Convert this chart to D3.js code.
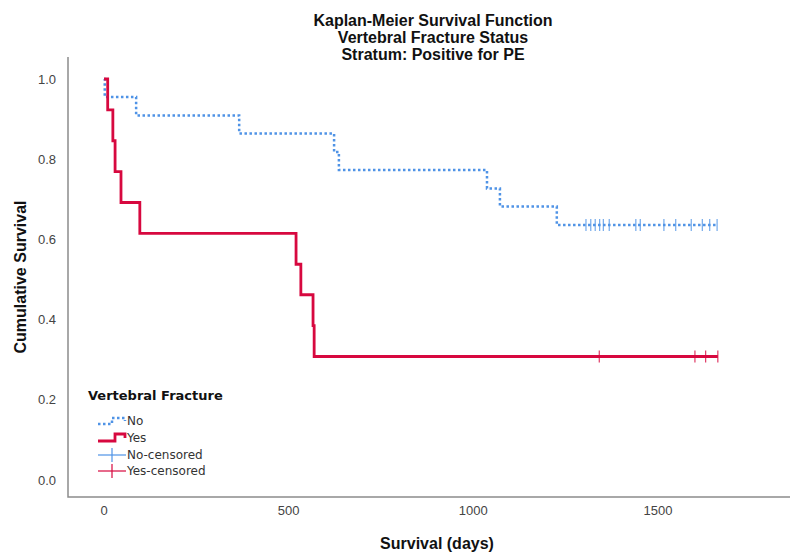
<!DOCTYPE html>
<html lang="en">
<head>
    <meta charset="UTF-8">
    <title>Kaplan-Meier Survival Function</title>
    <script src="https://d3js.org/d3.v7.min.js"></script>
    <style>
        body { margin: 0; background: #fff; }
        .title { font: bold 16px "Liberation Sans", Arial, sans-serif; fill: #111; }
        .axis-title { font: bold 16px "Liberation Sans", Arial, sans-serif; fill: #111; }
        .tick-label { font: 13px "Liberation Sans", Arial, sans-serif; fill: #444; }
        .legend-title { font: bold 13px "DejaVu Sans", sans-serif; fill: #111; }
        .legend-text { font: 12px "DejaVu Sans", sans-serif; fill: #333; }
    </style>
</head>
<body>
    <div id="chart"></div>

    <script>
        // Step times (days) where survival drops, and the survival after each drop
        const noTimes = [2, 87, 366, 623, 636, 1037, 1072, 1226];
        const noSurv = [0.955, 0.909, 0.864, 0.818, 0.773, 0.727, 0.682, 0.636];
        const noCensored = [1305, 1318, 1330, 1342, 1352, 1368, 1440, 1452, 1516, 1548, 1590, 1620, 1640, 1660];

        const yesTimes = [10, 24, 30, 46, 97, 520, 533, 566, 569];
        const yesSurv = [0.923, 0.846, 0.769, 0.692, 0.615, 0.538, 0.462, 0.385, 0.308];
        const yesCensored = [1341, 1600, 1629, 1662];

        const xTicks = [0, 500, 1000, 1500];
        const yTicks = [0, 0.2, 0.4, 0.6, 0.8, 1.0];
        const titleLines = ["Kaplan-Meier Survival Function", "Vertebral Fracture Status", "Stratum: Positive for PE"];

        const width = 795, height = 554;
        const blue = "#4f93e6", red = "#d7083f";

        const svg = d3.select("#chart").append("svg")
            .attr("width", width)
            .attr("height", height);

        // scales
        const x = d3.scaleLinear().domain([0, 1500]).range([104, 658]);
        const y = d3.scaleLinear().domain([0, 1]).range([480, 79]);

        // frame (left + bottom only)
        svg.append("path")
            .attr("d", "M68,57V497H790")
            .attr("fill", "none")
            .attr("stroke", "#8c8c8c")
            .attr("stroke-width", 1.5);

        // tick labels
        svg.selectAll(".ytl").data(yTicks).enter().append("text")
            .attr("class", "tick-label")
            .attr("x", 56)
            .attr("y", d => y(d))
            .attr("dy", "0.35em")
            .attr("text-anchor", "end")
            .text(d => d3.format(".1f")(d));

        svg.selectAll(".xtl").data(xTicks).enter().append("text")
            .attr("class", "tick-label")
            .attr("x", d => x(d))
            .attr("y", 515)
            .attr("text-anchor", "middle")
            .text(d => d);

        // titles
        svg.selectAll(".title").data(titleLines).enter().append("text")
            .attr("class", "title")
            .attr("x", 433)
            .attr("y", (d, i) => 26 + i * 17)
            .attr("text-anchor", "middle")
            .text(d => d);

        svg.append("text")
            .attr("class", "axis-title")
            .attr("x", 437)
            .attr("y", 549)
            .attr("text-anchor", "middle")
            .text("Survival (days)");

        svg.append("text")
            .attr("class", "axis-title")
            .attr("transform", "translate(26,277) rotate(-90)")
            .attr("text-anchor", "middle")
            .text("Cumulative Survival");

        // horizontal at the old level, then drop at each event time
        function kmPath(times, surv, censored) {
            const pts = [[0, 1]];
            let prev = 1;
            times.forEach((t, i) => { pts.push([t, prev]); pts.push([t, surv[i]]); prev = surv[i]; });
            pts.push([d3.max(censored), prev]);
            return d3.line().x(d => x(d[0])).y(d => y(d[1]))(pts);
        }

        function drawCurve(times, surv, censored, color, dash, sw) {
            svg.append("path")
                .attr("d", kmPath(times, surv, censored))
                .attr("fill", "none")
                .attr("stroke", color)
                .attr("stroke-width", sw)
                .attr("stroke-dasharray", dash)
                .attr("stroke-linejoin", "miter");

            // censored marks
            const last = surv[surv.length - 1];
            svg.selectAll(null).data(censored).enter().append("line")
                .attr("x1", d => x(d)).attr("x2", d => x(d))
                .attr("y1", y(last) - 6).attr("y2", y(last) + 6)
                .attr("stroke", color)
                .attr("stroke-opacity", 0.8)
                .attr("stroke-width", 1.2);
        }

        drawCurve(noTimes, noSurv, noCensored, blue, "2.5,2.5", 2.5);
        drawCurve(yesTimes, yesSurv, yesCensored, red, null, 2.8);

        // legend
        const lg = svg.append("g").attr("transform", "translate(88,0)");
        lg.append("text").attr("class", "legend-title")
            .attr("x", 0).attr("y", 400).text("Vertebral Fracture");

        const items = [
            {label: "No", y: 421},
            {label: "Yes", y: 438},
            {label: "No-censored", y: 455},
            {label: "Yes-censored", y: 471}
        ];
        lg.selectAll(".lt").data(items).enter().append("text")
            .attr("class", "legend-text")
            .attr("x", 39)
            .attr("y", d => d.y)
            .attr("dy", "0.35em")
            .text(d => d.label);

        lg.append("path")
            .attr("d", "M10,424H24V418H37V421")
            .attr("fill", "none").attr("stroke", blue)
            .attr("stroke-width", 2.5).attr("stroke-dasharray", "2.5,2.5");
        lg.append("path")
            .attr("d", "M10,441H27V434H37V438")
            .attr("fill", "none").attr("stroke", red)
            .attr("stroke-width", 2.8);
        [[455, blue], [471, red]].forEach(([yy, c]) => {
            lg.append("line").attr("x1", 10).attr("x2", 38).attr("y1", yy).attr("y2", yy)
                .attr("stroke", c).attr("stroke-width", 1.2);
            lg.append("line").attr("x1", 24).attr("x2", 24).attr("y1", yy - 7).attr("y2", yy + 7)
                .attr("stroke", c).attr("stroke-width", 1.2);
        });
    </script>
</body>
</html>
